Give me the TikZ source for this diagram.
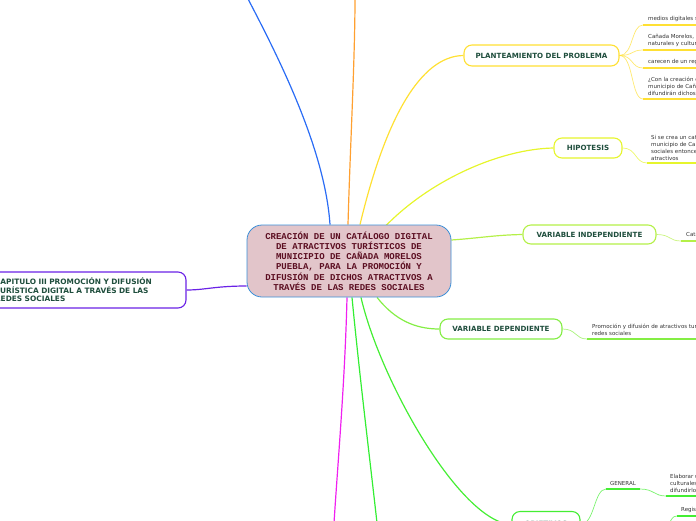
\documentclass[tikz,border=0pt]{standalone}
\usepackage{fontspec}
\setmainfont{DejaVu Sans}
\newfontfamily\monob{Liberation Mono}
\usetikzlibrary{backgrounds}
\definecolor{cfill}{HTML}{E2C5CA}
\definecolor{cborder}{HTML}{3A8FD8}
\definecolor{ctext}{HTML}{5C0F22}
\definecolor{tgreen}{HTML}{1F4E3D}
\definecolor{leafgray}{HTML}{333333}
\definecolor{cpurple}{HTML}{6A22E6}
\definecolor{cblue}{HTML}{2A6CF5}
\definecolor{corange}{HTML}{FFA030}
\definecolor{cyellow}{HTML}{FFE033}
\definecolor{chipo}{HTML}{E6F52C}
\definecolor{cvind}{HTML}{B4F048}
\definecolor{cvdep}{HTML}{84EE44}
\definecolor{cobj}{HTML}{44EE33}
\definecolor{cmag}{HTML}{F020F0}
\definecolor{cgreen}{HTML}{33EE33}
\tikzset{
  central/.style={draw=cborder, line width=0.8pt, fill=cfill, rounded corners=15pt,
    minimum width=204pt, minimum height=72pt, inner sep=0pt, align=center,
    text=ctext, font=\monob\bfseries\fontsize{9}{10.2}\selectfont},
  topic/.style={draw=#1, line width=1.1pt, fill=white, rounded corners=8pt,
    inner sep=0pt, text=tgreen, font=\bfseries\fontsize{7.1}{8}\selectfont},
  leaftext/.style={anchor=south west, inner sep=0pt, align=left, text=leafgray,
    font=\fontsize{5.5}{7}\selectfont},
  branch/.style={draw=#1, line width=1.2pt},
  twig/.style={draw=#1, line width=0.7pt, draw opacity=0.7},
  uline/.style={draw=#1, line width=1.6pt},
}
\begin{document}
\begin{tikzpicture}[x=1pt,y=-1pt]
\useasboundingbox (0,0) rectangle (696,520);
\clip (0,0) rectangle (696,520);

% off-image ends
\coordinate (blueend) at (247,-3);
\coordinate (orangeend) at (355,-3);
\coordinate (magend) at (334,523);
\coordinate (greenend) at (377,523);
\coordinate (espec) at (668,524);

\node[central] (c) at (349,261) {CREACIÓN DE UN CATÁLOGO DIGITAL\\DE ATRACTIVOS TURÍSTICOS DE\\MUNICIPIO DE CAÑADA MORELOS\\PUEBLA, PARA LA PROMOCIÓN Y\\DIFUSIÓN DE DICHOS ATRACTIVOS A\\TRAVÉS DE LAS REDES SOCIALES};

\node[topic=cpurple, minimum width=206pt, minimum height=36pt, align=left, text width=176pt,
  font=\bfseries\fontsize{7.4}{8.4}\selectfont] (cap) at (83,290)
  {CAPITULO III PROMOCIÓN Y DIFUSIÓN\\TURÍSTICA DIGITAL A TRAVÉS DE LAS\\REDES SOCIALES};
\node[topic=cyellow, minimum width=155pt, minimum height=21pt] (plan) at (541.5,55.5) {PLANTEAMIENTO DEL PROBLEMA};
\node[topic=chipo, minimum width=68pt, minimum height=20pt] (hipo) at (588,148) {HIPOTESIS};
\node[topic=cvind, minimum width=133pt, minimum height=19pt] (vind) at (589.5,234.5) {VARIABLE INDEPENDIENTE};
\node[topic=cvdep, minimum width=122pt, minimum height=20pt] (vdep) at (501,329) {VARIABLE DEPENDIENTE};
\node[topic=cobj, minimum width=68pt, minimum height=26pt] (obj) at (546,524.5) {OBJETIVOS};

\begin{scope}[on background layer]
\draw[branch=cblue] ([xshift=-19pt]c.north) .. controls (325,150) and (280,60) .. (blueend);
\draw[branch=corange] ([xshift=-1pt]c.north) .. controls (350,150) and (355,60) .. (orangeend);
\draw[branch=cyellow] ([xshift=11pt]c.north) .. controls (385,120) and (420,56) .. (plan.west);
\draw[branch=chipo] ([xshift=36pt,yshift=-2pt]c.north) .. controls (430,180) and (500,149) .. (hipo.west);
\draw[branch=cvind] ([yshift=21pt]c.east) .. controls (480,238) and (495,235) .. (vind.west);
\draw[branch=cvdep] ([xshift=28pt]c.south) .. controls (395,320) and (415,329) .. (vdep.west);
\draw[branch=cobj] ([xshift=12pt]c.south) .. controls (380,380) and (460,522) .. (obj.west);
\draw[branch=cgreen] ([xshift=3pt]c.south) .. controls (360,380) and (370,460) .. (greenend);
\draw[branch=cmag] ([xshift=-2pt]c.south) .. controls (345,380) and (338,460) .. (magend);
\draw[branch=cpurple] ([yshift=-25pt]c.west) .. controls (215,286) and (205,290) .. (cap.east);
\end{scope}

% PLANTEAMIENTO leaves
\coordinate (p1) at (643,25);
\coordinate (p2) at (643,50);
\coordinate (p3) at (643,68);
\coordinate (p4) at (643,99);
\foreach \p in {p1,p2,p3,p4}{
  \draw[twig=cyellow] (plan.east) .. controls +(14,0) and +(-12,0) .. (\p);
  \draw[uline=cyellow] (\p) -- ++(60,0);
}
\node[leaftext] (pt1) at (648,22) {medios digitales sociales};
\node[leaftext] (pt2) at (648,47) {Cañada Morelos, Puebla\\naturales y culturales};
\node[leaftext] (pt3) at (648,65) {carecen de un registro};
\node[leaftext] (pt4) at (648,96) {¿Con la creación de un\\municipio de Cañada\\difundirán dichos};

% HIPOTESIS leaf
\coordinate (h1) at (647,163);
\draw[twig=chipo] (hipo.east) .. controls +(14,0) and +(-12,0) .. (h1);
\draw[uline=chipo] (h1) -- ++(60,0);
\node[leaftext] (ht1) at (651,161) {Si se crea un catálogo\\municipio de Cañada\\sociales entonces\\atractivos};

% VARIABLE INDEPENDIENTE leaf
\coordinate (vi1) at (681,241);
\draw[twig=cvind] (vind.east) .. controls +(14,0) and +(-12,0) .. (vi1);
\draw[uline=cvind] (vi1) -- ++(30,0);
\node[leaftext] (vit1) at (686,238) {Catálogo};

% VARIABLE DEPENDIENTE leaf
\coordinate (vd1) at (587,339);
\draw[twig=cvdep] (vdep.east) .. controls +(14,0) and +(-12,0) .. (vd1);
\draw[uline=cvdep] (vd1) -- ++(120,0);
\node[leaftext] (vdt1) at (592,336) {Promoción y difusión de atractivos turísticos\\redes sociales};

% OBJETIVOS leaves
\coordinate (g1) at (606,489);
\coordinate (g2) at (640,489);
\draw[twig=cobj] (obj.east) .. controls +(14,0) and +(-12,0) .. (g1);
\draw[uline=cobj] (g1) -- (g2);
\node[inner sep=0pt, anchor=south, text=leafgray, font=\fontsize{5.5}{7}\selectfont] (gen) at (623,486) {GENERAL};
\coordinate (e1) at (666,496);
\draw[twig=cobj] (g2) .. controls +(14,0) and +(-12,0) .. (e1);
\draw[uline=cobj] (e1) -- ++(40,0);
\node[leaftext] (et1) at (670,493) {Elaborar un\\culturales del\\difundirlo en};
\coordinate (r1) at (677,516);
\draw[twig=cobj] (espec) .. controls +(4,-4) and +(-5,0) .. (r1);
\draw[uline=cobj] (r1) -- ++(30,0);
\node[leaftext] (rt1) at (681,513) {Registrar};
\end{tikzpicture}
\end{document}
